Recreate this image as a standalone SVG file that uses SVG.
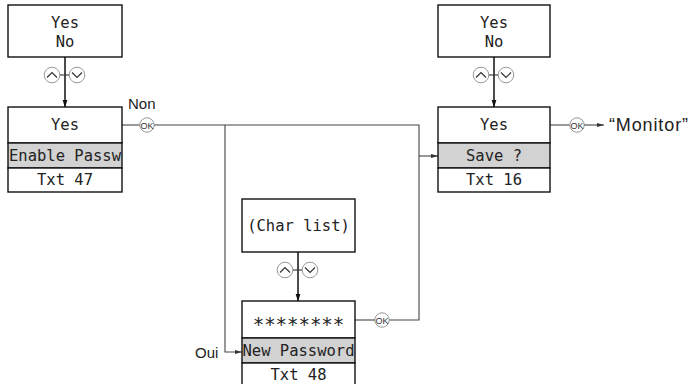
<svg xmlns="http://www.w3.org/2000/svg" width="689" height="384" viewBox="0 0 689 384">
<style>
.box{fill:#fff;stroke:#111;stroke-width:1.4}
.gray{fill:#d2d2d2;stroke:#111;stroke-width:1.4}
.mono{font-family:"DejaVu Sans Mono","Liberation Mono",monospace;font-size:15.5px;fill:#222;text-anchor:middle;dominant-baseline:central}
.lbl{font-family:"Liberation Sans",Arial,sans-serif;font-size:15px;fill:#222;dominant-baseline:central}
.ln{fill:none;stroke:#444;stroke-width:1.1}
.main{fill:none;stroke:#111;stroke-width:1.5}
.btn{fill:#fff;stroke:#999;stroke-width:1}
.chev{fill:none;stroke:#333;stroke-width:1.2}
.ok{font-family:"Liberation Sans",Arial,sans-serif;font-size:9px;fill:#333;text-anchor:middle;dominant-baseline:central}
</style>
<defs>
<marker id="bigArrow" markerWidth="8" markerHeight="12" refX="7.5" refY="4" orient="auto" markerUnits="userSpaceOnUse" viewBox="0 0 8 8">
<path d="M0,1.5 L8,4 L0,6.5 Z" fill="#111"/>
</marker>
<marker id="smArrow" markerWidth="7" markerHeight="5" refX="7" refY="2.5" orient="auto" markerUnits="userSpaceOnUse">
<path d="M0,0.5 L7,2.5 L0,4.5 Z" fill="#333"/>
</marker>
<g id="updown">
<circle class="btn" cx="-13" cy="0" r="7.8"/>
<circle class="btn" cx="12" cy="0" r="7.8"/>
<path class="chev" d="M-18,2.5 L-13,-2.5 L-8,2.5"/>
<path class="chev" d="M7,-2.5 L12,2.5 L17,-2.5"/>
<line x1="-5" y1="0" x2="4" y2="0" stroke="#333" stroke-width="1.1"/>
</g>
<g id="okbtn">
<circle class="btn" cx="0" cy="0" r="7.2"/>
<text class="ok" x="0" y="0.5">OK</text>
</g>
</defs>

<g id="connectors">
<line class="main" x1="65" y1="57" x2="65" y2="107" marker-end="url(#bigArrow)"/>
<line class="main" x1="494" y1="57" x2="494" y2="107" marker-end="url(#bigArrow)"/>
<line class="main" x1="298" y1="252" x2="298" y2="301" marker-end="url(#bigArrow)"/>
<use href="#updown" x="65" y="75"/>
<use href="#updown" x="494" y="75"/>
<use href="#updown" x="298" y="270"/>
<line class="ln" x1="122" y1="125" x2="139.8" y2="125"/>
<use href="#okbtn" x="147" y="125"/>
<polyline class="ln" points="154.2,125 419,125 419,320 389.2,320"/>
<use href="#okbtn" x="382" y="320"/>
<line class="ln" x1="355" y1="320" x2="374.8" y2="320"/>
<polyline class="ln" points="225,125 225,352 242,352" marker-end="url(#smArrow)"/>
<line class="ln" x1="419" y1="156" x2="438" y2="156" marker-end="url(#smArrow)"/>
<line class="ln" x1="550" y1="125" x2="569.8" y2="125"/>
<use href="#okbtn" x="577" y="125"/>
<line class="ln" x1="584.2" y1="125" x2="604" y2="125" marker-end="url(#smArrow)"/>
<text class="lbl" x="128" y="103">Non</text>
<text class="lbl" x="195" y="352">Oui</text>
<text class="lbl" x="609" y="125" style="font-size:18px" textLength="79">“Monitor”</text>
</g>

<g id="node-yesno-left">
<rect class="box" x="8" y="5" width="114" height="52"/>
<text class="mono" x="65" y="23">Yes</text>
<text class="mono" x="65" y="42">No</text>
</g>

<g id="node-enable">
<rect class="box" x="8" y="107" width="114" height="36"/>
<rect class="gray" x="8" y="143" width="114" height="25"/>
<rect class="box" x="8" y="168" width="114" height="24"/>
<text class="mono" x="65" y="125">Yes</text>
<text class="mono" x="65" y="155.5">Enable Passw</text>
<text class="mono" x="65" y="180">Txt 47</text>
</g>

<g id="node-yesno-right">
<rect class="box" x="438" y="5" width="112" height="52"/>
<text class="mono" x="494" y="23">Yes</text>
<text class="mono" x="494" y="42">No</text>
</g>

<g id="node-save">
<rect class="box" x="438" y="107" width="112" height="36"/>
<rect class="gray" x="438" y="143" width="112" height="25"/>
<rect class="box" x="438" y="168" width="112" height="24"/>
<text class="mono" x="494" y="125">Yes</text>
<text class="mono" x="494" y="155.5">Save ?</text>
<text class="mono" x="494" y="180">Txt 16</text>
</g>

<g id="node-charlist">
<rect class="box" x="242" y="199" width="113" height="53"/>
<text class="mono" x="298.5" y="226">(Char list)</text>
</g>

<g id="node-password">
<rect class="box" x="242" y="301" width="113" height="37"/>
<rect class="gray" x="242" y="338" width="113" height="25"/>
<rect class="box" x="242" y="363" width="113" height="25"/>
<text class="mono" x="298.5" y="324" style="font-size:19px">********</text>
<text class="mono" x="298.5" y="350.5">New Password</text>
<text class="mono" x="298.5" y="375">Txt 48</text>
</g>
</svg>
